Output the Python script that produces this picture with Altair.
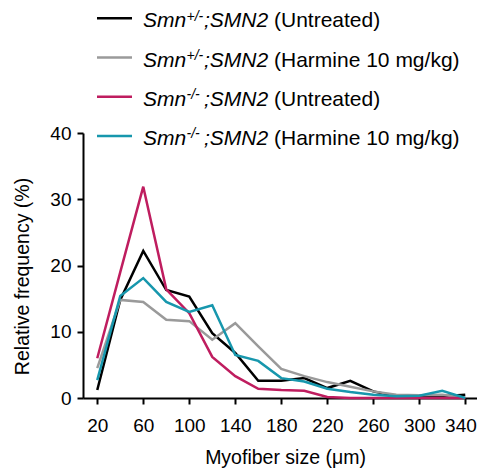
import altair as alt
import pandas as pd

# ---- data ----
sizes = [20, 40, 60, 80, 100, 120, 140, 160, 180, 200, 220, 240, 260, 280, 300, 320, 340]
het_untreated = [1.2, 14.8, 22.2, 16.3, 15.3, 9.8, 6.8, 2.6, 2.6, 3.0, 1.5, 2.6, 1.0, 0.25, 0.25, 0.25, 0.5]
het_harmine = [4.5, 14.8, 14.5, 11.8, 11.6, 8.8, 11.3, 7.8, 4.4, 3.3, 2.4, 1.7, 1.0, 0.5, 0.4, 0.5, 0.0]
ko_untreated = [6.0, 19.0, 31.9, 16.4, 12.8, 6.2, 3.3, 1.4, 1.2, 1.1, 0.15, 0.0, 0.0, 0.0, 0.0, 0.0, 0.0]
ko_harmine = [2.7, 15.4, 18.1, 14.5, 13.0, 14.0, 6.5, 5.6, 3.0, 2.5, 1.4, 0.9, 0.5, 0.25, 0.35, 1.1, 0.0]

series_keys = ["het_untreated", "het_harmine", "ko_untreated", "ko_harmine"]
series_values = [het_untreated, het_harmine, ko_untreated, ko_harmine]
series_colors = ["#000000", "#9a9a9a", "#bf1d5f", "#1797ad"]

legend_gene = ["Smn", "Smn", "Smn", "Smn"]
legend_sup = ["+/-", "+/-", "-/-", "-/-"]
legend_mid = [";SMN2", ";SMN2", ";SMN2", ";SMN2"]
legend_treat = ["(Untreated)", "(Harmine 10 mg/kg)", "(Untreated)", "(Harmine 10 mg/kg)"]

x_ticks = [20, 60, 100, 140, 180, 220, 260, 300, 340]
y_ticks = [0, 10, 20, 30, 40]

FONT = "Liberation Sans"

rows = []
for key, vals in zip(series_keys, series_values):
    for s, v in zip(sizes, vals):
        rows.append({"series": key, "size": s, "freq": v})
df = pd.DataFrame(rows)

legend_df = pd.DataFrame({
    "series": series_keys,
    "gene": legend_gene,
    "sup": legend_sup,
    "mid": legend_mid,
    "treat": legend_treat,
})

x_enc = alt.X(
    "size:Q",
    scale=alt.Scale(domain=[7.6, 350.2], nice=False, zero=False),
    axis=alt.Axis(
        values=x_ticks, title="Myofiber size (μm)", grid=False,
        labelFontSize=19, labelPadding=12, labelFlush=12, labelFlushOffset=11,
        labelOverlap=False,
        titleFontSize=19.5, titleFontWeight="normal", titleX=202, titleY=65,
        titleBaseline="alphabetic",
    ),
)
y_enc = alt.Y(
    "freq:Q",
    scale=alt.Scale(domain=[0, 40], nice=False),
    axis=alt.Axis(
        values=y_ticks, title="Relative frequency (%)", grid=False,
        labelFontSize=19, labelPadding=6,
        titleFontSize=19.5, titleFontWeight="normal", titleX=-55, titleY=143,
        titleAngle=270, titleBaseline="alphabetic",
    ),
)

layers = []
for key, color in zip(series_keys, series_colors):
    layers.append(
        alt.Chart(df[df["series"] == key])
        .mark_line(color=color, strokeWidth=2.5, strokeJoin="miter")
        .encode(x=x_enc, y=y_enc)
    )

# manual legend (mixed italic / superscript / regular text)
for i, color in enumerate(series_colors):
    row = legend_df.iloc[[i]]
    ly_line = -114.7 + 39.2 * i
    ly_text = -105.7 + 39.2 * i
    layers.append(
        alt.Chart(row).mark_rule(color=color, strokeWidth=2.5)
        .encode(x=alt.value(14), x2=alt.value(49), y=alt.value(ly_line))
    )
    layers.append(
        alt.Chart(row).mark_text(align="left", baseline="alphabetic", font=FONT,
                                 fontSize=21, fontStyle="italic", color="black")
        .encode(x=alt.value(60), y=alt.value(ly_text), text="gene:N")
    )
    layers.append(
        alt.Chart(row).mark_text(align="left", baseline="alphabetic", font=FONT,
                                 fontSize=14, fontStyle="italic", color="black")
        .encode(x=alt.value(103.5), y=alt.value(ly_text - 6.5), text="sup:N")
    )
    layers.append(
        alt.Chart(row).mark_text(align="left", baseline="alphabetic", font=FONT,
                                 fontSize=21, fontStyle="italic", color="black")
        .encode(x=alt.value(121), y=alt.value(ly_text), text="mid:N")
    )
    layers.append(
        alt.Chart(row).mark_text(align="left", baseline="alphabetic", font=FONT,
                                 fontSize=21, color="black")
        .encode(x=alt.value(191), y=alt.value(ly_text), text="treat:N")
    )

chart = (
    alt.layer(*layers)
    .properties(
        width=394, height=265,
        autosize=alt.AutoSizeParams(type="none"),
        padding={"left": 75, "top": 125, "right": 0, "bottom": 72},
    )
    .configure_view(stroke=None)
    .configure_axis(
        labelFont=FONT, titleFont=FONT, labelColor="black", titleColor="black",
        domainColor="black", tickColor="black", domainWidth=2, tickWidth=2,
        tickSize=6,
    )
)

chart.save("out.html", embed_options={"renderer": "svg", "actions": False})
